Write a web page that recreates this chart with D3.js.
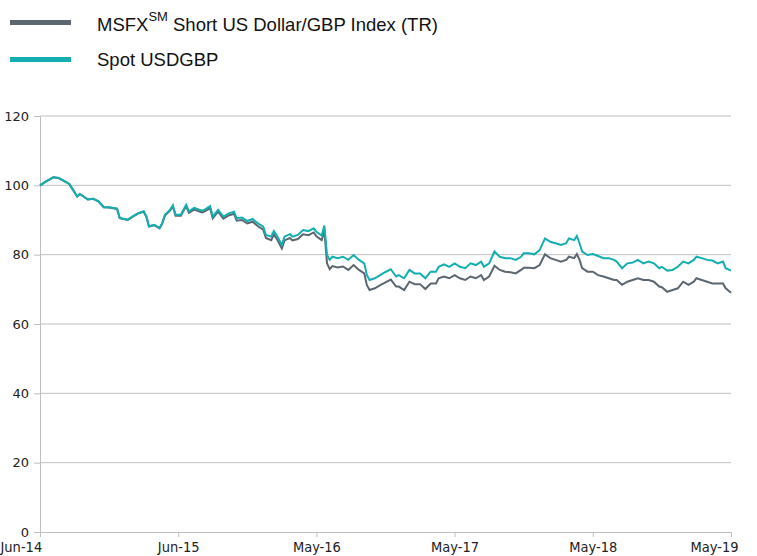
<!DOCTYPE html>
<html>
<head>
<meta charset="utf-8">
<script src="https://cdn.jsdelivr.net/npm/d3@7"></script>
<style>
  body { margin: 0; background: #fff; }
  svg { display: block; }
</style>
</head>
<body>
<svg width="757" height="556"></svg>
<script>
// week index from the start (Jun-14 = 0, May-19 = 260)
const weeks = [0, 2, 5, 7, 9, 11, 12, 14, 15, 18, 20, 22, 24, 26, 29, 30, 33, 35, 37, 39,
  40, 41, 43, 45, 46, 47, 49, 50, 51, 53, 55, 56, 58, 61, 62, 64, 65, 67, 69, 71,
  73, 74, 76, 78, 80, 82, 84, 85, 87, 88, 89, 91, 92, 94, 95, 97, 99, 101, 103, 104,
  106, 107, 108, 109, 110, 112, 114, 116, 118, 120, 122, 123, 124, 126, 128, 130, 132, 134, 135, 137,
  139, 141, 143, 145, 147, 149, 150, 152, 154, 156, 158, 160, 162, 164, 166, 167, 169, 171, 173, 175,
  177, 179, 181, 182, 184, 186, 188, 190, 192, 194, 196, 198, 199, 201, 202, 203, 204, 206, 208, 210,
  212, 214, 216, 217, 219, 221, 223, 225, 227, 229, 231, 233, 234, 236, 238, 240, 242, 244, 246, 247,
  249, 251, 253, 255, 257, 258, 260];

const msfx = [100, 101, 102.3, 102.1, 101.3, 100.4, 99.2, 96.8, 97.5, 95.9, 96.1, 95.4, 93.7, 93.6, 93.2, 90.5, 90.0, 91.0, 91.9, 92.4,
  91.0, 88.1, 88.5, 87.6, 89.0, 91.3, 92.8, 94.0, 91.2, 91.2, 94.0, 92.1, 93.0, 92.2, 92.5, 93.4, 90.5, 92.4, 90.4, 91.3,
  91.8, 89.8, 90.0, 89.0, 89.5, 88.2, 87.2, 84.8, 84.2, 85.8, 84.7, 81.8, 84.1, 84.8, 84.1, 84.5, 85.9, 85.6, 86.4, 85.3,
  84.2, 87.0, 77.5, 75.8, 76.7, 76.3, 76.6, 75.6, 77.0, 75.6, 74.6, 71.2, 69.8, 70.3, 71.2, 72.0, 72.8, 70.8, 70.8, 69.8,
  72.2, 71.5, 71.5, 70.1, 71.7, 71.7, 73.2, 73.7, 73.2, 74.1, 73.2, 72.7, 73.7, 73.2, 74.1, 72.7, 73.7, 76.8, 75.6, 75.1,
  74.9, 74.6, 75.6, 76.2, 76.2, 76.1, 77.0, 80.1, 79.0, 78.5, 78.0, 78.5, 79.4, 79.0, 80.2, 78.5, 76.1, 75.1, 75.1, 74.1,
  73.7, 73.2, 72.7, 72.7, 71.3, 72.2, 72.7, 73.2, 72.7, 72.7, 72.2, 70.8, 70.6, 69.3, 69.8, 70.3, 72.2, 71.3, 72.2, 73.2,
  72.7, 72.2, 71.7, 71.7, 71.7, 70.3, 69.0];

const spot = [100, 101, 102.3, 102.1, 101.3, 100.4, 99.2, 96.8, 97.5, 95.9, 96.1, 95.4, 93.7, 93.7, 93.3, 90.6, 90.1, 91.1, 92.0, 92.5,
  91.1, 88.2, 88.6, 87.7, 89.1, 91.5, 93.0, 94.2, 91.5, 91.5, 94.4, 92.5, 93.5, 92.7, 93.0, 94.0, 91.0, 92.9, 91.0, 91.9,
  92.4, 90.5, 90.7, 89.7, 90.3, 89.0, 88.1, 85.7, 85.2, 86.8, 85.7, 82.8, 85.2, 85.9, 85.2, 85.7, 87.1, 86.8, 87.6, 86.6,
  85.5, 88.4, 79.9, 78.5, 79.4, 79.0, 79.4, 78.5, 79.9, 78.5, 77.5, 74.1, 72.7, 73.2, 74.1, 75.0, 75.8, 73.7, 74.1, 73.2,
  75.6, 74.6, 74.6, 73.2, 75.1, 75.1, 76.5, 77.2, 76.5, 77.5, 76.5, 76.1, 77.5, 77.0, 78.0, 76.5, 77.5, 80.9, 79.4, 79.0,
  79.0, 78.5, 79.4, 80.4, 80.4, 80.1, 81.3, 84.7, 83.7, 83.3, 82.8, 83.3, 84.7, 84.2, 85.4, 83.3, 80.9, 79.9, 80.2, 79.6,
  79.0, 79.0, 78.5, 78.0, 76.1, 77.5, 77.7, 78.5, 77.5, 78.0, 77.5, 76.1, 76.5, 75.4, 75.6, 76.5, 78.0, 77.5, 78.5, 79.4,
  79.0, 78.5, 78.3, 77.5, 78.0, 76.1, 75.4];

const tickWeeks = [0, 52, 104, 156, 208, 260];
const tickLabels = ['Jun-14', 'Jun-15', 'May-16', 'May-17', 'May-18', 'May-19'];
const yTicks = [0, 20, 40, 60, 80, 100, 120];

const svg = d3.select('svg');
const grey = '#5b6670';
const teal = '#13aeb1';
const gridColor = '#bfbfbf';

const x = d3.scaleLinear().domain([0, 260]).range([40, 731]);
const y = d3.scaleLinear().domain([0, 120]).range([532, 116]);

// gridlines
svg.append('g')
  .selectAll('line')
  .data(yTicks.filter(d => d > 0))
  .join('line')
  .attr('x1', 40)
  .attr('x2', 731)
  .attr('y1', d => y(d))
  .attr('y2', d => y(d))
  .style('stroke', gridColor)
  .style('stroke-width', 1);

// y axis
const yAxis = svg.append('g')
  .attr('transform', 'translate(40,0)')
  .call(d3.axisLeft(y).tickValues(yTicks).tickSize(6).tickPadding(5));
yAxis.select('.domain').style('stroke', gridColor);
yAxis.selectAll('.tick line').style('stroke', gridColor);
yAxis.selectAll('text')
  .style('font-family', 'Verdana, "DejaVu Sans", sans-serif')
  .style('font-size', '13px')
  .style('fill', '#222');

// x axis
const xAxis = svg.append('g')
  .attr('transform', 'translate(0,532)')
  .call(d3.axisBottom(x).tickValues(tickWeeks).tickFormat((d, i) => tickLabels[i]).tickSize(5).tickPadding(5));
xAxis.select('.domain').style('stroke', gridColor).attr('d', 'M40,0.5H731');
xAxis.selectAll('.tick line').style('stroke', gridColor);
xAxis.selectAll('text')
  .style('font-family', '"DejaVu Sans Condensed", Verdana, sans-serif')
  .style('font-size', '14.5px')
  .style('fill', '#222');
// keep the end labels inside the picture, as the reference does
xAxis.selectAll('.tick text')
  .filter((d, i) => i === 0)
  .attr('text-anchor', 'start')
  .attr('x', -40);
xAxis.selectAll('.tick text')
  .filter((d, i) => i === tickWeeks.length - 1)
  .attr('text-anchor', 'end')
  .attr('x', 7);

// lines
const line = d3.line()
  .x((d, i) => x(weeks[i]))
  .y(d => y(d));

svg.append('path')
  .datum(msfx)
  .attr('d', line)
  .style('fill', 'none')
  .style('stroke', grey)
  .style('stroke-width', 2);

svg.append('path')
  .datum(spot)
  .attr('d', line)
  .style('fill', 'none')
  .style('stroke', teal)
  .style('stroke-width', 2);

// legend
const legend = svg.append('g')
  .style('font-family', 'Arial, "Liberation Sans", sans-serif')
  .style('font-size', '18.5px')
  .style('fill', '#111');

legend.append('line')
  .attr('x1', 10).attr('x2', 71).attr('y1', 22.5).attr('y2', 22.5)
  .style('stroke', grey).style('stroke-width', 5);
const t1 = legend.append('text').attr('x', 97).attr('y', 31);
t1.append('tspan').text('MSFX');
t1.append('tspan').attr('dy', -10).style('font-size', '13px').text('SM');
t1.append('tspan').attr('dy', 10).text(' Short US Dollar/GBP Index (TR)');

legend.append('line')
  .attr('x1', 10).attr('x2', 71).attr('y1', 59.5).attr('y2', 59.5)
  .style('stroke', teal).style('stroke-width', 5);
legend.append('text').attr('x', 97).attr('y', 66).text('Spot USDGBP');
</script>
</body>
</html>
